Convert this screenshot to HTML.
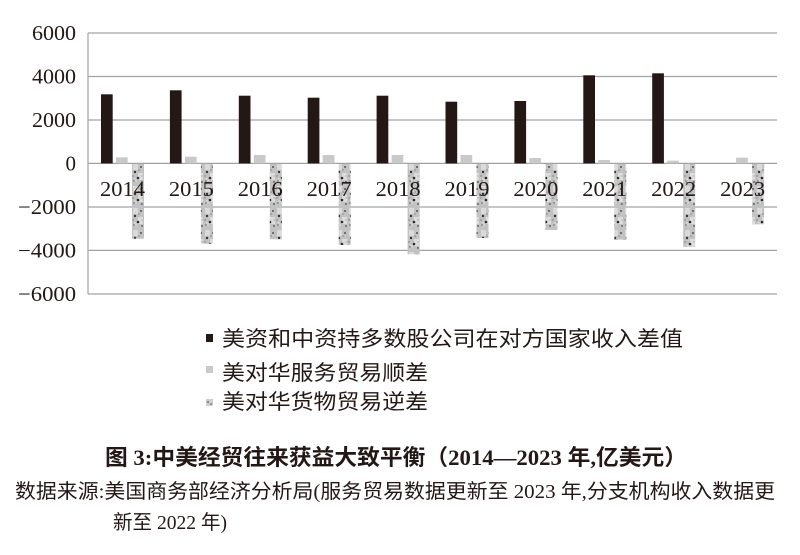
<!DOCTYPE html>
<html><head><meta charset="utf-8"><style>
html,body{margin:0;padding:0;background:#fff;}
svg{display:block;}
</style></head><body>
<svg width="800" height="555" viewBox="0 0 800 555" xmlns="http://www.w3.org/2000/svg">
<defs>
<pattern id="pt" patternUnits="userSpaceOnUse" width="12" height="22" x="0" y="163">
<rect width="12" height="22" fill="#c2c2c2"/>
<rect x="1" y="1" width="5" height="6" fill="#dadada"/>
<rect x="6" y="10" width="5" height="7" fill="#dcdcdc"/>
<rect x="2" y="15" width="3" height="4" fill="#d0d0d0"/>
<circle cx="3" cy="9" r="1.2" fill="#333"/>
<circle cx="9" cy="4" r="1" fill="#555"/>
<circle cx="6" cy="15" r="1.3" fill="#2a2a2a"/>
<circle cx="10" cy="19" r="1" fill="#666"/>
<circle cx="2" cy="18" r="0.9" fill="#777"/>
<circle cx="7" cy="7" r="0.8" fill="#888"/>
<circle cx="1" cy="13" r="0.7" fill="#777"/>
<circle cx="10" cy="13" r="0.6" fill="#999"/>
</pattern>
</defs>
<rect width="800" height="555" fill="#fff"/>
<g stroke="#a3a3a3" stroke-width="1.2">
<line x1="88" y1="33" x2="777" y2="33"/>
<line x1="88" y1="76.5" x2="777" y2="76.5"/>
<line x1="88" y1="120" x2="777" y2="120"/>
<line x1="88" y1="163.4" x2="777" y2="163.4"/>
<line x1="88" y1="207" x2="777" y2="207"/>
<line x1="88" y1="250.4" x2="777" y2="250.4"/>
<line x1="88" y1="294" x2="777" y2="294"/>
<line x1="88" y1="33" x2="88" y2="294"/>
</g>
<g font-family="'Liberation Serif', serif" font-size="21" fill="#231815" text-anchor="end">
<text x="76" y="40" textLength="44" lengthAdjust="spacingAndGlyphs">6000</text>
<text x="76" y="83.5" textLength="44" lengthAdjust="spacingAndGlyphs">4000</text>
<text x="76" y="127" textLength="44" lengthAdjust="spacingAndGlyphs">2000</text>
<text x="76" y="170.4">0</text>
<text x="76" y="214" textLength="58" lengthAdjust="spacingAndGlyphs">−2000</text>
<text x="76" y="257.4" textLength="58" lengthAdjust="spacingAndGlyphs">−4000</text>
<text x="76" y="301" textLength="58" lengthAdjust="spacingAndGlyphs">−6000</text>
</g>
<g fill="#231815">
<rect x="101" y="94.3" width="11.7" height="69.1"/>
<rect x="169.9" y="90.3" width="11.7" height="73.1"/>
<rect x="238.8" y="95.7" width="11.7" height="67.7"/>
<rect x="307.7" y="97.7" width="11.7" height="65.7"/>
<rect x="376.6" y="95.7" width="11.7" height="67.7"/>
<rect x="445.5" y="101.7" width="11.7" height="61.7"/>
<rect x="514.4" y="101" width="11.7" height="62.4"/>
<rect x="583.3" y="75.3" width="11.7" height="88.1"/>
<rect x="652.2" y="73.3" width="11.7" height="90.1"/>
</g>
<g fill="#c9c9c9">
<rect x="116" y="157.3" width="11.7" height="6.1"/>
<rect x="184.9" y="156.7" width="11.7" height="6.7"/>
<rect x="253.8" y="155" width="11.7" height="8.4"/>
<rect x="322.7" y="155" width="11.7" height="8.4"/>
<rect x="391.6" y="155" width="11.7" height="8.4"/>
<rect x="460.5" y="155" width="11.7" height="8.4"/>
<rect x="529.4" y="158" width="11.7" height="5.4"/>
<rect x="598.3" y="160" width="11.7" height="3.4"/>
<rect x="667.2" y="160.7" width="11.7" height="2.7"/>
<rect x="736.1" y="157.7" width="11.7" height="5.7"/>
</g>
<g fill="url(#pt)">
<rect x="132" y="164" width="12" height="74.7"/>
<rect x="200.9" y="164" width="12" height="79.7"/>
<rect x="269.8" y="164" width="12" height="75.3"/>
<rect x="338.7" y="164" width="12" height="81"/>
<rect x="407.6" y="164" width="12" height="90.3"/>
<rect x="476.5" y="164" width="12" height="74"/>
<rect x="545.4" y="164" width="12" height="66"/>
<rect x="614.3" y="164" width="12" height="76"/>
<rect x="683.2" y="164" width="12" height="82.7"/>
<rect x="752.1" y="164" width="12" height="60.3"/>
</g>
<g font-family="'Liberation Serif', serif" font-size="21" fill="#231815" text-anchor="middle">
<text x="122.5" y="196" textLength="45" lengthAdjust="spacingAndGlyphs">2014</text>
<text x="191.4" y="196" textLength="45" lengthAdjust="spacingAndGlyphs">2015</text>
<text x="260.3" y="196" textLength="45" lengthAdjust="spacingAndGlyphs">2016</text>
<text x="329.2" y="196" textLength="45" lengthAdjust="spacingAndGlyphs">2017</text>
<text x="398.1" y="196" textLength="45" lengthAdjust="spacingAndGlyphs">2018</text>
<text x="467" y="196" textLength="45" lengthAdjust="spacingAndGlyphs">2019</text>
<text x="535.9" y="196" textLength="45" lengthAdjust="spacingAndGlyphs">2020</text>
<text x="604.8" y="196" textLength="45" lengthAdjust="spacingAndGlyphs">2021</text>
<text x="673.7" y="196" textLength="45" lengthAdjust="spacingAndGlyphs">2022</text>
<text x="742.6" y="196" textLength="45" lengthAdjust="spacingAndGlyphs">2023</text>
</g>
<rect x="206" y="334" width="7" height="8" fill="#231815"/>
<rect x="206" y="366" width="7" height="7" fill="#c9c9c9"/>
<rect x="206" y="399" width="7" height="7" fill="#cfcfcf"/>
<rect x="207" y="401" width="2" height="2" fill="#888"/>
<rect x="210" y="403" width="2" height="2" fill="#999"/>
<g font-family="'Liberation Sans', 'Noto Sans CJK SC', sans-serif" font-size="21" fill="#231815">
<text x="222" y="346" textLength="461" lengthAdjust="spacingAndGlyphs">美资和中资持多数股公司在对方国家收入差值</text>
<text x="222" y="380" textLength="206" lengthAdjust="spacingAndGlyphs">美对华服务贸易顺差</text>
<text x="222" y="409" textLength="206" lengthAdjust="spacingAndGlyphs">美对华货物贸易逆差</text>
</g>
<text x="105" y="465" font-family="'Liberation Serif', 'Noto Sans CJK SC', sans-serif" font-weight="bold" font-size="22" fill="#231815" textLength="582" lengthAdjust="spacingAndGlyphs">图 3:中美经贸往来获益大致平衡（2014—2023 年,亿美元）</text>
<g font-family="'Liberation Serif', 'Noto Sans CJK SC', sans-serif" font-size="20" fill="#231815">
<text x="15" y="498" textLength="760" lengthAdjust="spacingAndGlyphs">数据来源:美国商务部经济分析局(服务贸易数据更新至 2023 年,分支机构收入数据更</text>
<text x="113" y="529" textLength="114" lengthAdjust="spacingAndGlyphs">新至 2022 年)</text>
</g>
</svg>
</body></html>
